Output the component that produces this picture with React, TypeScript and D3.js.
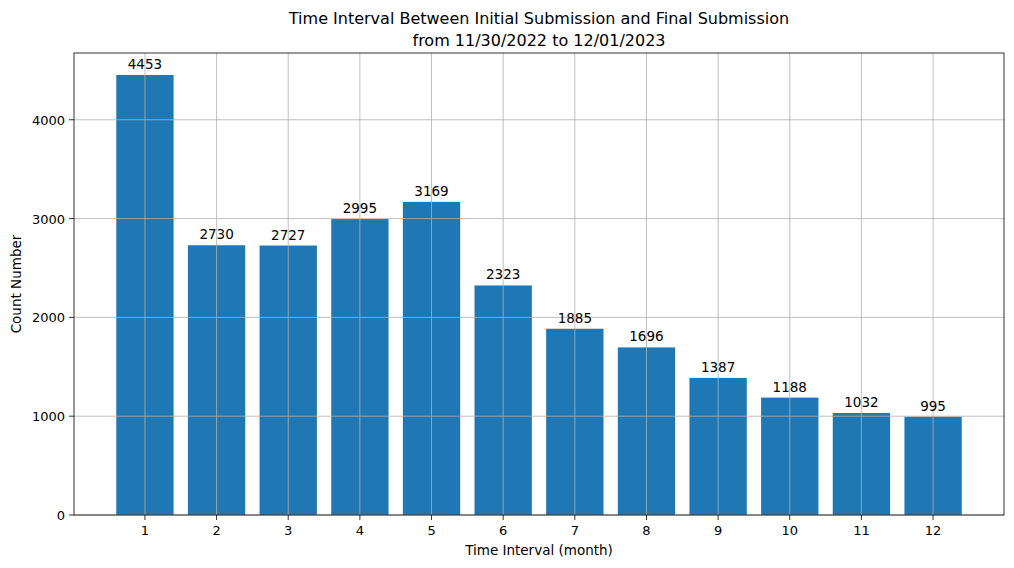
import React from 'react';
import * as d3 from 'd3';

const months = [1, 2, 3, 4, 5, 6, 7, 8, 9, 10, 11, 12];
const counts = [4453, 2730, 2727, 2995, 3169, 2323, 1885, 1696, 1387, 1188, 1032, 995];
const yTicks = [0, 1000, 2000, 3000, 4000];

const W = 1014, H = 568;
const m = { left: 74, right: 1004, top: 53, bottom: 515 };
const font = 'DejaVu Sans, sans-serif';

export default function App() {
  const x = d3.scaleLinear().domain([0.01, 12.99]).range([m.left, m.right]);
  const y = d3.scaleLinear().domain([0, 4675.6]).range([m.bottom, m.top]);
  const bw = x(0.8) - x(0);
  return (
    <svg width={W} height={H} style={{ position: 'absolute', left: 0, top: 0 }} fontFamily={font}>
      <rect width={W} height={H} fill="#fff" />
      {months.map((mo, i) => (
        <rect key={mo} x={x(mo) - bw / 2} y={y(counts[i])} width={bw} height={y(0) - y(counts[i])} fill="#1f77b4" />
      ))}
      {months.map(mo => (
        <line key={'gx' + mo} x1={x(mo)} x2={x(mo)} y1={m.top} y2={m.bottom} stroke="#b0b0b0" strokeWidth={0.8} />
      ))}
      {yTicks.map(t => (
        <line key={'gy' + t} x1={m.left} x2={m.right} y1={y(t)} y2={y(t)} stroke="#b0b0b0" strokeWidth={0.8} />
      ))}
      {months.map((mo, i) => (
        <text key={'l' + mo} x={x(mo)} y={y(counts[i]) - 6} textAnchor="middle" fontSize={13.5}>{counts[i]}</text>
      ))}
      <rect x={m.left} y={m.top} width={m.right - m.left} height={m.bottom - m.top} fill="none" stroke="#000" strokeWidth={0.8} />
      {months.map(mo => (
        <g key={'tx' + mo}>
          <line x1={x(mo)} x2={x(mo)} y1={m.bottom} y2={m.bottom + 5} stroke="#000" strokeWidth={0.8} />
          <text x={x(mo)} y={m.bottom + 20} textAnchor="middle" fontSize={13}>{mo}</text>
        </g>
      ))}
      {yTicks.map(t => (
        <g key={'ty' + t}>
          <line x1={m.left - 5} x2={m.left} y1={y(t)} y2={y(t)} stroke="#000" strokeWidth={0.8} />
          <text x={m.left - 9} y={y(t) + 5} textAnchor="end" fontSize={13}>{t}</text>
        </g>
      ))}
      <text x={(m.left + m.right) / 2} y={555} textAnchor="middle" fontSize={13.5}>Time Interval (month)</text>
      <text transform={`translate(21,${(m.top + m.bottom) / 2}) rotate(-90)`} textAnchor="middle" fontSize={13.5}>Count Number</text>
      <text x={(m.left + m.right) / 2} y={24} textAnchor="middle" fontSize={16}>Time Interval Between Initial Submission and Final Submission</text>
      <text x={(m.left + m.right) / 2} y={46} textAnchor="middle" fontSize={16}>from 11/30/2022 to 12/01/2023</text>
    </svg>
  );
}
